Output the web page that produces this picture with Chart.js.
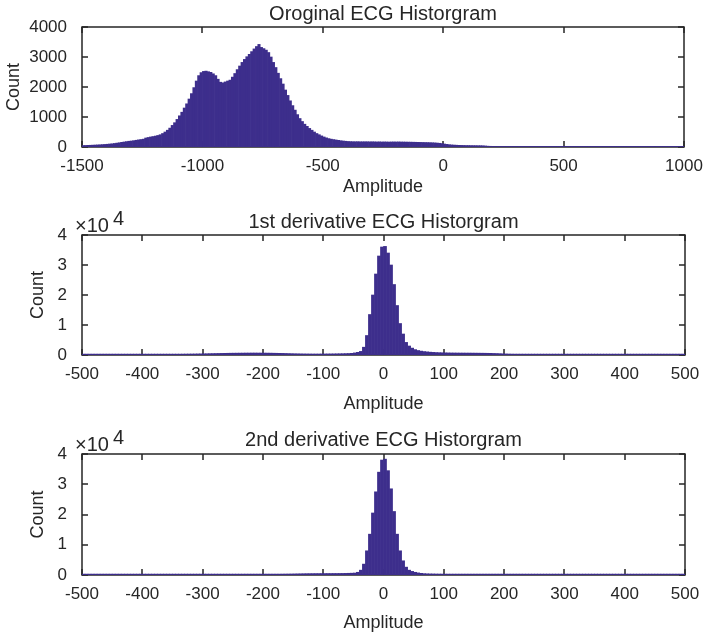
<!DOCTYPE html>
<html>
<head>
<meta charset="utf-8">
<script src="https://cdn.jsdelivr.net/npm/chart.js@4"></script>
<style>
  html, body { margin: 0; padding: 0; background: #fff; }
  body { width: 707px; height: 635px; position: relative; overflow: hidden; }
  .panel { position: absolute; left: 0; width: 707px; }
</style>
</head>
<body>
<div class="panel" style="top:0;height:205px"><canvas id="orig"></canvas></div>
<div class="panel" style="top:205px;height:215px"><canvas id="deriv1"></canvas></div>
<div class="panel" style="top:420px;height:215px"><canvas id="deriv2"></canvas></div>
<script>
// Histogram data (counts per bin)

// Original ECG: bins of width 10 from -1500 to 1000
const ORIG_BIN_START = -1500;
const ORIG_BIN_WIDTH = 10;
const origCounts = [
    50, 52, 55, 58, 62, 66, 70, 75, 80, 86,
    92, 100, 108, 118, 130, 142, 155, 168, 180, 192,
    200, 212, 225, 238, 250, 262, 300, 318, 335, 350,
    365, 385, 410, 450, 500, 560, 630, 720, 810, 920,
    1040, 1160, 1300, 1440, 1600, 1780, 1980, 2200, 2380, 2480,
    2520, 2530, 2510, 2490, 2440, 2380, 2260, 2160, 2140, 2170,
    2200, 2230, 2330, 2450, 2580, 2700, 2820, 2920, 3010, 3090,
    3180, 3270, 3350, 3420, 3320, 3280, 3230, 3150, 3000, 2820,
    2650, 2460, 2280, 2100, 1900, 1720, 1540, 1380, 1230, 1080,
    950, 850, 760, 690, 620, 560, 500, 450, 410, 370,
    335, 305, 280, 262, 248, 235, 222, 210, 200, 192,
    185, 180, 178, 176, 178, 175, 174, 176, 175, 173,
    175, 172, 170, 172, 168, 170, 168, 166, 168, 170,
    168, 170, 168, 166, 165, 163, 162, 160, 158, 156,
    154, 152, 150, 148, 146, 142, 138, 132, 124, 115,
    100, 88, 78, 70, 65, 60, 56, 54, 52, 50,
    49, 48, 47, 46, 45, 44, 42, 35, 28, 24,
    20, 20, 20, 20, 20, 20, 20, 20, 20, 20,
    20, 20, 20, 20, 20, 20, 20, 20, 20, 20,
    20, 20, 20, 20, 20, 20, 20, 20, 20, 20,
    20, 20, 20, 20, 20, 20, 20, 20, 20, 20,
    20, 20, 20, 20, 20, 20, 20, 20, 20, 20,
    20, 20, 20, 20, 20, 20, 20, 20, 20, 20,
    20, 20, 20, 20, 20, 20, 20, 20, 20, 20,
    20, 20, 20, 20, 20, 20, 20, 20, 20, 20
];

// Derivatives: bins of width 5 from -500 to 500
const DERIV_BIN_START = -500;
const DERIV_BIN_WIDTH = 5;
const deriv1Counts = [
    300, 300, 300, 300, 300, 300, 300, 300, 300, 300,
    300, 300, 300, 300, 300, 300, 300, 300, 300, 300,
    300, 300, 300, 300, 300, 300, 300, 300, 300, 300,
    300, 300, 300, 310, 320, 330, 340, 350, 370, 390,
    410, 430, 460, 480, 500, 520, 540, 560, 580, 600,
    610, 620, 630, 640, 650, 650, 660, 660, 650, 650,
    640, 630, 620, 600, 580, 560, 540, 510, 480, 450,
    420, 400, 380, 360, 350, 340, 330, 330, 330, 340,
    350, 360, 370, 380, 400, 420, 440, 470, 500, 550,
    700, 900, 1200, 2600, 6500, 13500, 20000, 27000, 33000, 36000,
    36200, 34000, 30000, 23500, 16500, 10500, 7000, 4200, 3000, 2300,
    1800, 1500, 1300, 1150, 1050, 950, 880, 820, 780, 750,
    720, 700, 680, 670, 660, 650, 650, 640, 640, 630,
    620, 610, 600, 590, 570, 550, 520, 490, 450, 400,
    360, 330, 310, 300, 300, 300, 300, 300, 300, 300,
    300, 300, 300, 300, 300, 300, 300, 300, 300, 300,
    300, 300, 300, 300, 300, 300, 300, 300, 300, 300,
    300, 300, 300, 300, 300, 300, 300, 300, 300, 300,
    300, 300, 300, 300, 300, 300, 300, 300, 300, 300,
    300, 300, 300, 300, 300, 300, 300, 300, 300, 300
];
const deriv2Counts = [
    300, 300, 300, 300, 300, 300, 300, 300, 300, 300,
    300, 300, 300, 300, 300, 300, 300, 300, 300, 300,
    300, 300, 300, 300, 300, 300, 300, 300, 300, 300,
    300, 300, 300, 300, 300, 300, 300, 300, 300, 300,
    300, 300, 300, 300, 300, 300, 300, 300, 300, 300,
    300, 300, 300, 300, 300, 300, 300, 300, 300, 300,
    300, 300, 300, 300, 300, 300, 310, 320, 330, 340,
    360, 380, 400, 420, 440, 450, 460, 470, 470, 480,
    480, 490, 490, 500, 500, 510, 520, 540, 570, 600,
    650, 900, 1600, 3600, 8000, 13500, 20500, 27500, 34000, 38000,
    38300, 34500, 28500, 21000, 13500, 8000, 4700, 2600, 1600, 1200,
    900, 700, 550, 450, 400, 370, 350, 330, 320, 310,
    300, 300, 300, 300, 300, 300, 300, 300, 300, 300,
    300, 300, 300, 300, 300, 300, 300, 300, 300, 300,
    300, 300, 300, 300, 300, 300, 300, 300, 300, 300,
    300, 300, 300, 300, 300, 300, 300, 300, 300, 300,
    300, 300, 300, 300, 300, 300, 300, 300, 300, 300,
    300, 300, 300, 300, 300, 300, 300, 300, 300, 300,
    300, 300, 300, 300, 300, 300, 300, 300, 300, 300,
    300, 300, 300, 300, 300, 300, 300, 300, 300, 300
];

// Tick labels
const origXTicks = [-1500, -1000, -500, 0, 500, 1000];
const origYTicks = [0, 1000, 2000, 3000, 4000];
const derivXTicks = [-500, -400, -300, -200, -100, 0, 100, 200, 300, 400, 500];
const derivYTicks = [0, 10000, 20000, 30000, 40000];

const BAR_COLOR = '#3d2e8c';
const AXIS_COLOR = '#262626';
const FONT = "'Liberation Sans', Arial, Helvetica, sans-serif";

Chart.defaults.font.family = FONT;
Chart.defaults.color = AXIS_COLOR;

/**
 * Turn a list of counts into {x, y} points at the bin centres
 */
function toBins(counts, start, width) {
    return counts.map((c, i) => ({ x: start + width * (i + 0.5), y: c }));
}

// Box round the axes with inward tick marks on all four sides (under the bars)
const framePlugin = {
    id: 'axesFrame',
    beforeDatasetsDraw(chart) {
        const ctx = chart.ctx;
        const a = chart.chartArea;
        const x = chart.scales.x;
        const y = chart.scales.y;
        const L = Math.round(a.left);
        const R = Math.round(a.right);
        const T = Math.round(a.top);
        const B = Math.round(a.bottom);
        ctx.save();
        ctx.strokeStyle = AXIS_COLOR;
        ctx.lineWidth = 1.5;
        ctx.lineCap = 'butt';
        ctx.strokeRect(L, T, R - L, B - T);
        ctx.beginPath();
        x.ticks.forEach(t => {
            const px = Math.round(x.getPixelForValue(t.value));
            ctx.moveTo(px, B); ctx.lineTo(px, B - 6);
            ctx.moveTo(px, T); ctx.lineTo(px, T + 6);
        });
        y.ticks.forEach(t => {
            const py = Math.round(y.getPixelForValue(t.value));
            ctx.moveTo(L, py); ctx.lineTo(L + 6, py);
            ctx.moveTo(R, py); ctx.lineTo(R - 6, py);
        });
        ctx.stroke();
        ctx.restore();
    }
};

// "x10^4" multiplier above the y axis
const exponentPlugin = {
    id: 'exponent',
    afterDraw(chart) {
        const { ctx, chartArea: a } = chart;
        ctx.save();
        ctx.fillStyle = AXIS_COLOR;
        ctx.textAlign = 'left';
        ctx.textBaseline = 'alphabetic';
        ctx.font = '20px ' + FONT;
        const base = '\u00d710';
        const x0 = a.left - 7;
        ctx.fillText(base, x0, a.top - 3);
        const w = ctx.measureText(base).width;
        ctx.fillText('4', x0 + w + 4, a.top - 10);
        ctx.restore();
    }
};

/**
 * Build one histogram panel
 */
function makeHistogram(canvasId, p) {
    const plugins = [framePlugin];
    if (p.exponent) plugins.push(exponentPlugin);

    return new Chart(document.getElementById(canvasId), {
        type: 'bar',
        data: {
            datasets: [{
                data: toBins(p.counts, p.binStart, p.binWidth),
                backgroundColor: BAR_COLOR,
                borderWidth: 0,
                barPercentage: 1,
                categoryPercentage: 1,
                grouped: false
            }]
        },
        plugins: plugins,
        options: {
            responsive: true,
            maintainAspectRatio: false,
            animation: false,
            layout: { padding: { left: 0, right: p.rightPad, top: 0, bottom: 0 } },
            plugins: {
                legend: { display: false },
                tooltip: { enabled: false },
                title: {
                    display: true,
                    text: p.title,
                    fullSize: false,
                    color: AXIS_COLOR,
                    font: { size: 20, weight: 'normal' },
                    padding: p.titlePad
                }
            },
            scales: {
                x: {
                    type: 'linear',
                    min: p.xTicks[0],
                    max: p.xTicks[p.xTicks.length - 1],
                    offset: false,
                    grid: { display: false },
                    border: { display: false },
                    afterBuildTicks: s => { s.ticks = p.xTicks.map(v => ({ value: v })); },
                    afterFit: s => { s.height = p.xHeight; },
                    ticks: {
                        autoSkip: false,
                        maxRotation: 0,
                        padding: 1,
                        font: { size: 17 },
                        color: AXIS_COLOR,
                        callback: v => String(v)
                    },
                    title: {
                        display: true,
                        text: 'Amplitude',
                        font: { size: 18 },
                        color: AXIS_COLOR,
                        padding: { top: 0, bottom: p.xTitlePad }
                    }
                },
                y: {
                    min: 0,
                    max: p.yTicks[p.yTicks.length - 1],
                    grid: { display: false },
                    border: { display: false },
                    afterBuildTicks: s => { s.ticks = p.yTicks.map(v => ({ value: v })); },
                    afterFit: s => { s.width = 82; },
                    ticks: {
                        padding: 7,
                        font: { size: 17 },
                        color: AXIS_COLOR,
                        callback: v => String(v / p.yScale)
                    },
                    title: {
                        display: true,
                        text: 'Count',
                        font: { size: 18 },
                        color: AXIS_COLOR,
                        padding: { top: p.yTitlePad, bottom: 0 }
                    }
                }
            }
        }
    });
}

makeHistogram('orig', {
    title: 'Oroginal ECG Historgram',
    counts: origCounts, binStart: ORIG_BIN_START, binWidth: ORIG_BIN_WIDTH,
    xTicks: origXTicks, yTicks: origYTicks, yScale: 1,
    rightPad: 23, titlePad: { top: 2, bottom: 1 },
    xHeight: 58, xTitlePad: 7, yTitlePad: 3, exponent: false
});

makeHistogram('deriv1', {
    title: '1st derivative ECG Historgram',
    counts: deriv1Counts, binStart: DERIV_BIN_START, binWidth: DERIV_BIN_WIDTH,
    xTicks: derivXTicks, yTicks: derivYTicks, yScale: 10000,
    rightPad: 22, titlePad: { top: 5, bottom: 1 },
    xHeight: 65, xTitlePad: 5, yTitlePad: 27, exponent: true
});

makeHistogram('deriv2', {
    title: '2nd derivative ECG Historgram',
    counts: deriv2Counts, binStart: DERIV_BIN_START, binWidth: DERIV_BIN_WIDTH,
    xTicks: derivXTicks, yTicks: derivYTicks, yScale: 10000,
    rightPad: 22, titlePad: { top: 8, bottom: 2 },
    xHeight: 60, xTitlePad: 1, yTitlePad: 27, exponent: true
});
</script>
</body>
</html>
